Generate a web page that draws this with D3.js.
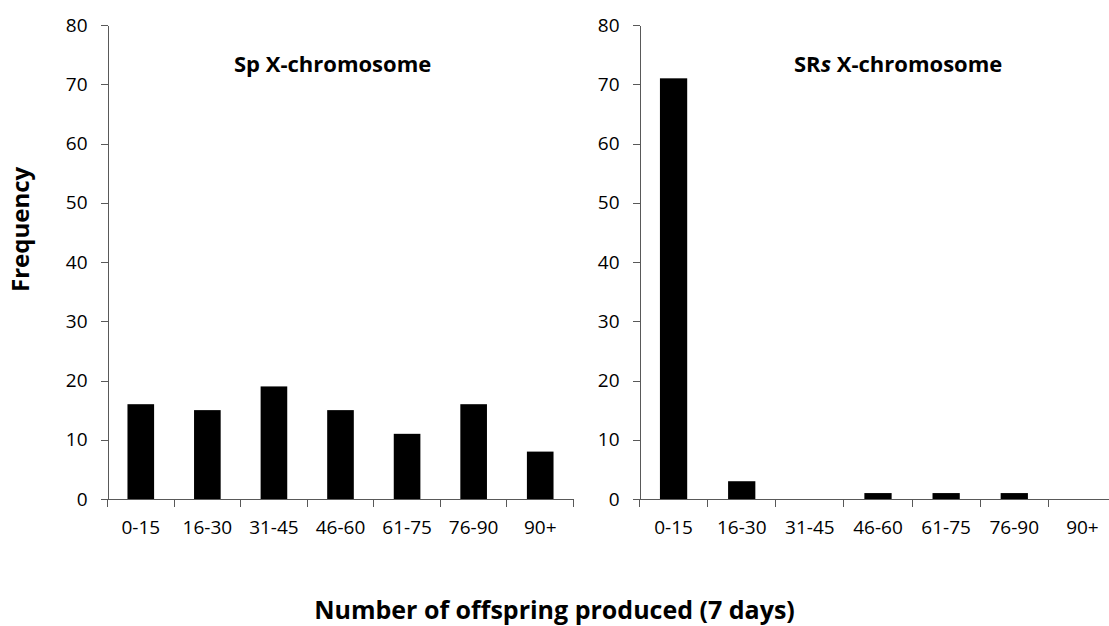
<!DOCTYPE html>
<html lang="en">
<head>
  <meta charset="UTF-8" />
  <title>Number of offspring produced (7 days)</title>
  <script src="https://d3js.org/d3.v7.min.js"></script>
  <style>
    body {
      margin: 0;
      background: #fff;
      font-family: "Open Sans", sans-serif;
    }
    .axis path, .axis line {
      stroke: #595959;
      shape-rendering: crispEdges;
    }
    .axis text {
      font-family: "Open Sans", sans-serif;
      font-size: 19px;
      fill: #000;
    }
  </style>
</head>
<body>
  <div id="chart"></div>

  <script>
    const categories = ["0-15", "16-30", "31-45", "46-60", "61-75", "76-90", "90+"];
    const spValues = [16, 15, 19, 15, 11, 16, 8];
    const srsValues = [71, 3, 0, 1, 1, 1, 0];
    const yTicks = [0, 10, 20, 30, 40, 50, 60, 70, 80];

    const W = 1109, H = 626;

    const svg = d3.select("#chart")
      .append("svg")
      .attr("width", W)
      .attr("height", H);

    const y = d3.scaleLinear()
      .domain([0, 80])
      .range([499, 25]);

    // two panels: left edge / right edge of the x axis
    const panels = [
      { x0: 107.5, x1: 573.5, values: spValues, title: "Sp", titleX: 234 },
      { x0: 639.5, x1: 1116.5, values: srsValues, title: "SRs", titleX: 794 }
    ];

    panels.forEach(p => {
      const x = d3.scaleBand()
        .domain(categories)
        .range([p.x0, p.x1])
        .padding(0);

      const g = svg.append("g");

      // bars
      g.selectAll("rect")
        .data(categories.map((c, i) => ({ cat: c, value: p.values[i] })))
        .join("rect")
        .attr("x", d => x(d.cat) + x.bandwidth() * 0.3)
        .attr("y", d => y(d.value))
        .attr("width", x.bandwidth() * 0.4)
        .attr("height", d => y(0) - y(d.value))
        .attr("fill", "#000");

      // y axis
      g.append("g")
        .attr("class", "axis")
        .attr("transform", `translate(${p.x0},0)`)
        .call(d3.axisLeft(y).tickValues(yTicks).tickSize(7).tickSizeOuter(0).tickPadding(13));

      // x axis, labels at band centres
      const xa = g.append("g")
        .attr("class", "axis")
        .attr("transform", `translate(0,${y(0)})`)
        .call(d3.axisBottom(x).tickSize(0).tickSizeOuter(0).tickPadding(22));

      // tick marks between categories
      xa.selectAll(".sep")
        .data(categories.concat(["end"]))
        .join("line")
        .attr("class", "sep")
        .attr("x1", (d, i) => i < categories.length ? x(d) : p.x1)
        .attr("x2", (d, i) => i < categories.length ? x(d) : p.x1)
        .attr("y1", 0)
        .attr("y2", 8);

      // panel title
      const t = svg.append("text")
        .attr("x", p.titleX)
        .attr("y", 72)
        .attr("font-size", "22px")
        .attr("font-weight", "bold");
      if (p.title === "SRs") {
        t.append("tspan").text("SR");
        t.append("tspan").attr("font-style", "italic").text("s");
        t.append("tspan").text(" X-chromosome");
      } else {
        t.text(p.title + " X-chromosome");
      }
    });

    // axis titles
    svg.append("text")
      .attr("transform", "translate(29,292) rotate(-90)")
      .attr("font-size", "24px")
      .attr("font-weight", "bold")
      .text("Frequency");

    svg.append("text")
      .attr("x", 554.5)
      .attr("y", 619)
      .attr("text-anchor", "middle")
      .attr("font-size", "25px")
      .attr("font-weight", "bold")
      .text("Number of offspring produced (7 days)");
  </script>
</body>
</html>
